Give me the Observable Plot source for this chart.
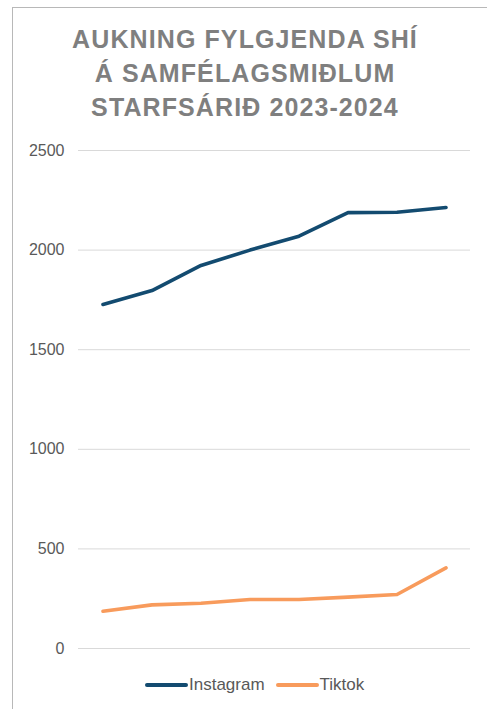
<!DOCTYPE html>
<html>
<head>
<meta charset="utf-8">
<script src="https://cdn.jsdelivr.net/npm/d3@7"></script>
<script src="https://cdn.jsdelivr.net/npm/@observablehq/plot@0.6"></script>
<style>
  html, body { margin: 0; padding: 0; background: #fff; }
  body { width: 487px; height: 709px; position: relative; overflow: hidden; font-family: "Liberation Sans", Arial, Helvetica, sans-serif; }
  #frame { position: absolute; left: 12px; top: 7px; right: -5px; bottom: -5px; border-left: 1px solid #b8b8b8; border-top: 1px solid #b8b8b8; }
  #title { position: absolute; left: 0; top: 22px; width: 490px; text-align: center; color: #7f7f7f; font-weight: bold; font-size: 25px; line-height: 34px; letter-spacing: 1.1px; }
  #chart { position: absolute; left: 0; top: 130px; }
  #legend { position: absolute; left: 145px; top: 674px; height: 22px; font-size: 17px; color: #595959; display: flex; align-items: center; }
  .sw { display: inline-block; width: 43px; height: 3.5px; margin-right: 1px; border-radius: 2px; }
  .item { display: flex; align-items: center; margin-right: 11px; }
</style>
</head>
<body>
<div id="frame"></div>
<div id="title">AUKNING FYLGJENDA SHÍ<br>Á SAMFÉLAGSMIÐLUM<br>STARFSÁRIÐ 2023-2024</div>
<div id="chart"></div>
<div id="legend"></div>
<script>
const periods = [1, 2, 3, 4, 5, 6, 7, 8];
const instagram = [1727, 1797, 1923, 2000, 2070, 2188, 2190, 2214];
const tiktok = [187, 219, 227, 246, 246, 258, 271, 405];
const seriesNames = ["Instagram", "Tiktok"];
const seriesColors = ["#134b70", "#f89b5c"];
const yTicks = [0, 500, 1000, 1500, 2000, 2500];

const rows = [];
periods.forEach((p, i) => {
  rows.push({period: p, value: instagram[i], series: seriesNames[0]});
  rows.push({period: p, value: tiktok[i], series: seriesNames[1]});
});

const plot = Plot.plot({
  width: 487,
  height: 540,
  marginLeft: 78,
  marginRight: 17,
  marginTop: 20,
  marginBottom: 22,
  style: {fontFamily: '"Liberation Sans", Arial, Helvetica, sans-serif', fontSize: "16px", color: "#595959", background: "transparent"},
  x: {domain: [0.5, 8.5], axis: null},
  y: {domain: [0, 2500], ticks: yTicks, label: null},
  color: {domain: seriesNames, range: seriesColors},
  marks: [
    Plot.gridY(yTicks, {stroke: "#d9d9d9", strokeOpacity: 1, strokeWidth: 1}),
    Plot.axisY(yTicks, {tickSize: 0, tickPadding: 14, fill: "#595959", fontSize: 16, label: null, tickFormat: d => String(d)}),
    Plot.line(rows, {x: "period", y: "value", z: "series", stroke: "series", strokeWidth: 3.6, strokeLinejoin: "round", strokeLinecap: "round"})
  ]
});
document.getElementById("chart").appendChild(plot);

const legend = document.getElementById("legend");
seriesNames.forEach((name, i) => {
  const item = document.createElement("div");
  item.className = "item";
  const sw = document.createElement("span");
  sw.className = "sw";
  sw.style.background = seriesColors[i];
  item.appendChild(sw);
  const t = document.createElement("span");
  t.textContent = name;
  item.appendChild(t);
  legend.appendChild(item);
});
</script>
</body>
</html>
